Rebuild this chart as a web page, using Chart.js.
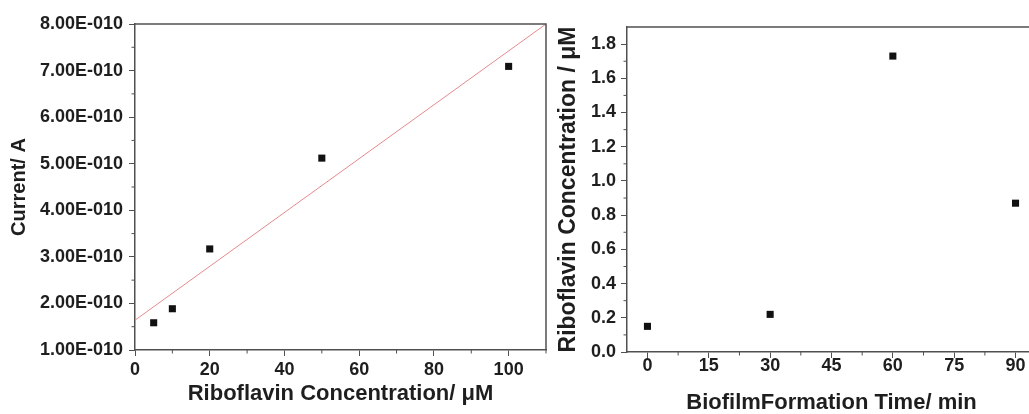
<!DOCTYPE html>
<html>
<head>
<meta charset="utf-8">
<script src="https://cdn.jsdelivr.net/npm/chart.js@4/dist/chart.umd.min.js"></script>
<style>
  html, body { margin:0; padding:0; background:#fff; overflow:hidden; width:1029px; height:414px; }
  .box { position:absolute; top:0; height:414px; }
  #leftBox { left:0; width:560px; }
  #rightBox { left:548px; width:500px; }
</style>
</head>
<body>
<div class="box" id="leftBox"><canvas id="left"></canvas></div>
<div class="box" id="rightBox"><canvas id="right"></canvas></div>
<script>
// left panel: current vs riboflavin concentration
const concX = [5, 10, 20, 50, 100];
const currentY = [1.585e-10, 1.886e-10, 3.17e-10, 5.12e-10, 7.09e-10];
const fitX = [0, 110];
const fitY = [1.64e-10, 8.0e-10];
const leftXTicks = [0, 20, 40, 60, 80, 100];
const leftXMinor = [10, 30, 50, 70, 90, 110];
const leftYTicks = [1e-10, 2e-10, 3e-10, 4e-10, 5e-10, 6e-10, 7e-10, 8e-10];
const leftYMinor = [1.5e-10, 2.5e-10, 3.5e-10, 4.5e-10, 5.5e-10, 6.5e-10, 7.5e-10];

// right panel: riboflavin vs biofilm formation time
const timeX = [0, 30, 60, 90];
const riboY = [0.15, 0.22, 1.73, 0.87];
const rightXTicks = [0, 15, 30, 45, 60, 75, 90];
const rightXMinor = [7.5, 22.5, 37.5, 52.5, 67.5, 82.5];
const rightYTicks = [0, 0.2, 0.4, 0.6, 0.8, 1.0, 1.2, 1.4, 1.6, 1.8];
const rightYMinor = [0.1, 0.3, 0.5, 0.7, 0.9, 1.1, 1.3, 1.5, 1.7];

const AX = '#505050';
const TXT = '#1e1e1e';
const FONT = "'Liberation Sans', Arial, sans-serif";

function sci(v){
  const e = Math.floor(Math.log10(v) + 1e-9);
  const m = v / Math.pow(10, e);
  return m.toFixed(2) + 'E' + (e < 0 ? '-' : '+') + String(Math.abs(e)).padStart(3, '0');
}

// box frame + short minor ticks
const frame = {
  id: 'frame',
  afterDraw(chart){
    const {ctx, chartArea:a, scales} = chart;
    const mx = chart.options.plugins.frame.minorX, my = chart.options.plugins.frame.minorY;
    ctx.save();
    ctx.strokeStyle = AX; ctx.lineWidth = 1.5;
    ctx.beginPath();
    ctx.moveTo(a.left, a.top); ctx.lineTo(a.right, a.top); ctx.lineTo(a.right, a.bottom);
    ctx.stroke();
    ctx.lineWidth = 1;
    ctx.beginPath();
    mx.forEach(v => { const px = scales.x.getPixelForValue(v); if (px <= a.right + 0.5) { ctx.moveTo(px, a.bottom); ctx.lineTo(px, a.bottom + 3.5); } });
    my.forEach(v => { const py = scales.y.getPixelForValue(v); ctx.moveTo(a.left, py); ctx.lineTo(a.left - 3.5, py); });
    ctx.stroke();
    ctx.restore();
  }
};

function axis(opts){
  return {
    type: 'linear', min: opts.min, max: opts.max,
    afterBuildTicks: s => { s.ticks = opts.ticks.map(v => ({value: v})); },
    afterFit: s => { if (opts.w) s.width = opts.w; if (opts.h) s.height = opts.h; },
    grid: { drawOnChartArea:false, drawTicks:true, tickLength:6, color:AX, lineWidth:1 },
    border: { display:true, color:AX, width:1.5 },
    ticks: { color:TXT, padding:opts.tp, font:{family:FONT, size:18, weight:'bold'}, maxRotation:0, autoSkip:false, callback:opts.cb },
    title: { display:true, text:opts.title, color:TXT, font:{family:FONT, size:opts.fs, weight:'bold', lineHeight:1}, padding:opts.pad }
  };
}

new Chart(document.getElementById('left'), {
  type: 'scatter',
  data: { datasets: [
    { data: concX.map((x, i) => ({x, y: currentY[i]})), pointStyle:'rect', pointRadius:5, backgroundColor:'#111', borderColor:'#111', borderWidth:0 },
    { data: fitX.map((x, i) => ({x, y: fitY[i]})), showLine:true, pointRadius:0, borderColor:'#e58a8c', borderWidth:1 }
  ]},
  options: {
    responsive:true, maintainAspectRatio:false, animation:false,
    layout: { padding: { top:24, right:14, left:0, bottom:0 } },
    plugins: { legend:{display:false}, tooltip:{enabled:false}, frame:{minorX:leftXMinor, minorY:leftYMinor} },
    scales: {
      x: axis({min:0, max:110, ticks:leftXTicks, h:64, tp:3, fs:22, title:'Riboflavin Concentration/ \u03bcM', pad:{top:0, bottom:9}, cb:v => String(v)}),
      y: axis({min:1e-10, max:8e-10, ticks:leftYTicks, w:135, tp:6, fs:20, title:'Current/ A', pad:{top:9, bottom:0}, cb:v => sci(v)})
    }
  },
  plugins: [frame]
});

new Chart(document.getElementById('right'), {
  type: 'scatter',
  data: { datasets: [
    { data: timeX.map((x, i) => ({x, y: riboY[i]})), pointStyle:'rect', pointRadius:5, backgroundColor:'#111', borderColor:'#111', borderWidth:0 }
  ]},
  options: {
    responsive:true, maintainAspectRatio:false, animation:false,
    layout: { padding: { top:27, right:12, left:0, bottom:0 } },
    plugins: { legend:{display:false}, tooltip:{enabled:false}, frame:{minorX:rightXMinor, minorY:rightYMinor} },
    scales: {
      x: axis({min:-5, max:95, ticks:rightXTicks, h:62, tp:-3, fs:22, title:'BiofilmFormation Time/ min', pad:{top:0, bottom:0}, cb:v => String(v)}),
      y: axis({min:0, max:1.9, ticks:rightYTicks, w:79, tp:5, fs:23, title:'Riboflavin Concentration / \u03bcM', pad:{top:9, bottom:0}, cb:v => v.toFixed(1)})
    }
  },
  plugins: [frame]
});
</script>
</body>
</html>
